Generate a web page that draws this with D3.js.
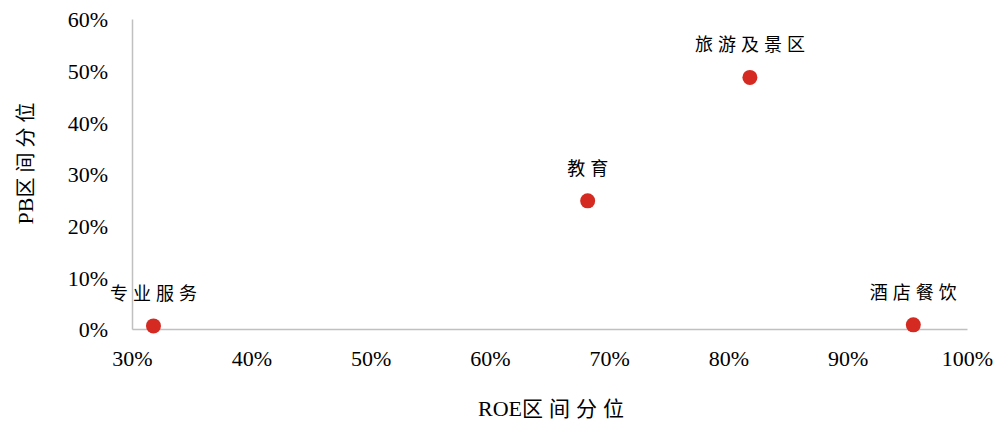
<!DOCTYPE html>
<html>
<head>
<meta charset="utf-8">
<script src="https://d3js.org/d3.v7.min.js"></script>
<style>
  body { margin: 0; background: #fff; }
  svg text { font-family: "Liberation Serif", "Times New Roman", "Noto Sans CJK SC", serif; fill: #000; }
</style>
</head>
<body>
<svg id="chart" width="1005" height="421"></svg>
<script>
// data
var names = ["专业服务", "教育", "旅游及景区", "酒店餐饮"]
var roe = [0.318, 0.682, 0.818, 0.955]
var pb = [0.006, 0.248, 0.487, 0.008]
var xTicks = [0.3, 0.4, 0.5, 0.6, 0.7, 0.8, 0.9, 1.0]
var yTicks = [0, 0.1, 0.2, 0.3, 0.4, 0.5, 0.6]

var svg = d3.select("#chart")
var x = d3.scaleLinear().domain([0.3, 1.0]).range([132, 967])
var y = d3.scaleLinear().domain([0, 0.6]).range([329, 19])
var pct = d3.format(".0%")

// axes
var xAxis = svg.append("g").attr("transform", "translate(0," + y(0) + ")")
  .call(d3.axisBottom(x).tickValues(xTicks).tickFormat(pct).tickSize(0).tickPadding(21))
var yAxis = svg.append("g").attr("transform", "translate(" + x(0.3) + ",0)")
  .call(d3.axisLeft(y).tickValues(yTicks).tickFormat(pct).tickSize(0).tickPadding(24))

svg.selectAll(".domain").attr("stroke", "#c0c0c0").attr("stroke-width", 1.5)
svg.selectAll(".tick text").style("font-size", "22px").style("font-family", "'Liberation Serif', serif")
yAxis.selectAll(".tick text").attr("dy", "0.35em")

// points
var pts = d3.range(names.length)
svg.append("g").selectAll("circle").data(pts).join("circle")
  .attr("cx", function(i) { return x(roe[i]) })
  .attr("cy", function(i) { return y(pb[i]) })
  .attr("r", 7.5)
  .attr("fill", "#d42a22")

svg.append("g").selectAll("text").data(pts).join("text")
  .attr("x", function(i) { return x(roe[i]) + 2.5 })
  .attr("y", function(i) { return y(pb[i]) - 26 })
  .attr("text-anchor", "middle")
  .style("font-family", "'Noto Sans CJK SC', sans-serif")
  .style("font-size", "18px")
  .style("letter-spacing", "5px")
  .text(function(i) { return names[i] })

// axis titles
var xt = svg.append("text")
  .attr("x", 554).attr("y", 416)
  .attr("text-anchor", "middle")
  .style("font-size", "22px")
xt.append("tspan").text("ROE")
xt.append("tspan").style("font-family", "'Noto Sans CJK SC', sans-serif").style("font-size", "21px")
  .style("letter-spacing", "6px").text("区间分位")

var yt = svg.append("text")
  .attr("transform", "translate(33,161) rotate(-90)")
  .attr("text-anchor", "middle")
  .style("font-size", "22px")
yt.append("tspan").text("PB")
yt.append("tspan").style("font-family", "'Noto Sans CJK SC', sans-serif").style("font-size", "20px")
  .style("letter-spacing", "5px").text("区间分位")
</script>
</body>
</html>
